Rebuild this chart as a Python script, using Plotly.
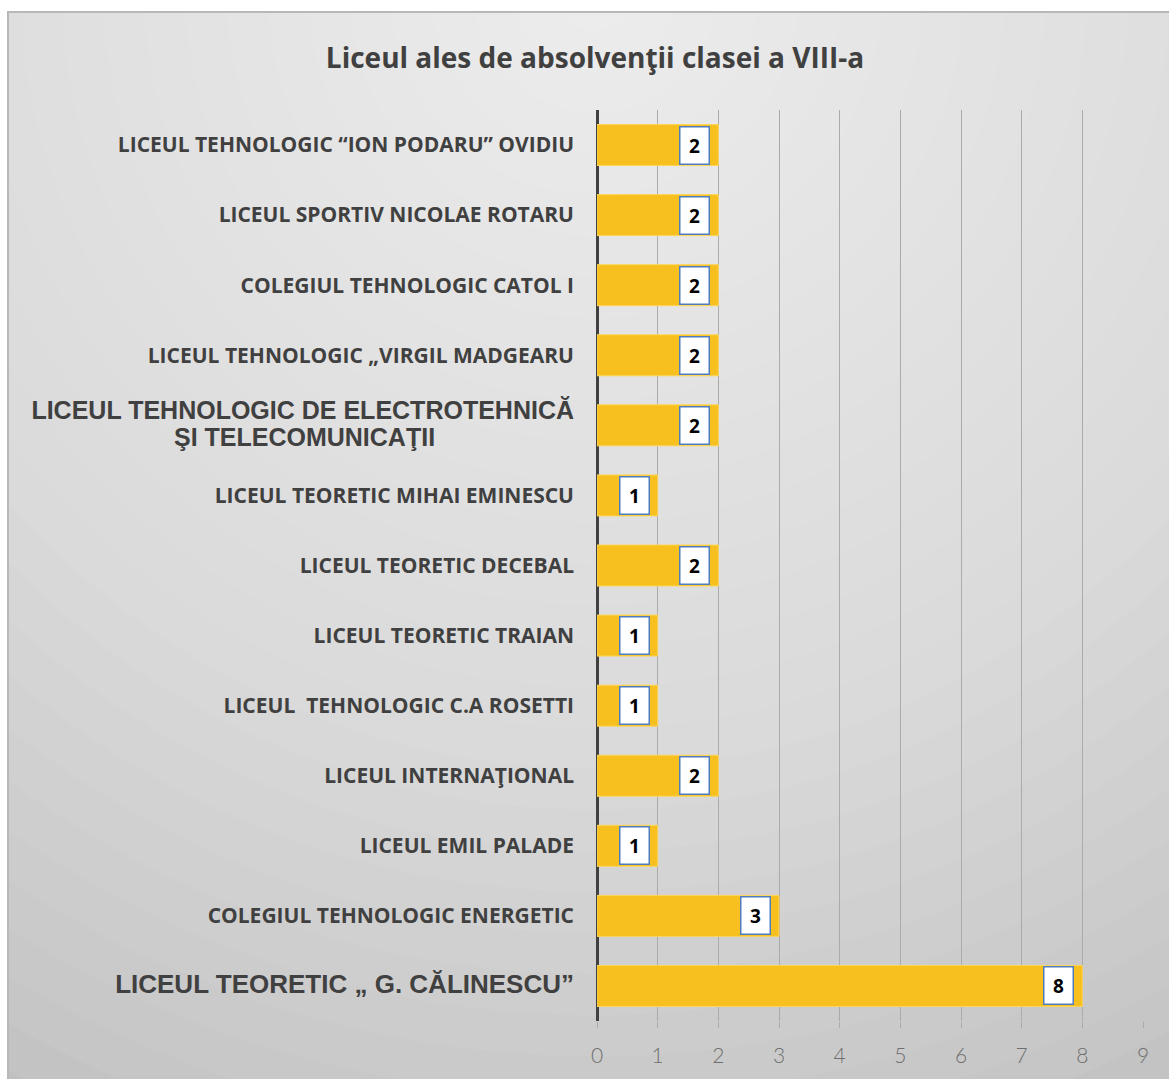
import plotly.graph_objects as go

# date
licee = [
    "LICEUL TEHNOLOGIC “ION PODARU” OVIDIU",
    "LICEUL SPORTIV NICOLAE ROTARU",
    "COLEGIUL TEHNOLOGIC CATOL I",
    "LICEUL TEHNOLOGIC „VIRGIL MADGEARU",
    "LICEUL TEHNOLOGIC DE ELECTROTEHNICĂ ŞI TELECOMUNICAŢII",
    "LICEUL TEORETIC MIHAI EMINESCU",
    "LICEUL TEORETIC DECEBAL",
    "LICEUL TEORETIC TRAIAN",
    "LICEUL  TEHNOLOGIC C.A ROSETTI",
    "LICEUL INTERNAŢIONAL",
    "LICEUL EMIL PALADE",
    "COLEGIUL TEHNOLOGIC ENERGETIC",
    "LICEUL TEORETIC „ G. CĂLINESCU”",
]
elevi = [2, 2, 2, 2, 2, 1, 2, 1, 1, 2, 1, 3, 8]
x_ticks = list(range(0, 10))

TITLU = "Liceul ales de absolvenţii clasei a VIII-a"

W, H = 1169, 1079
ML, MR, MT, MB = 597, 26, 110, 58

BAR = "#F8C01F"
TXT = "#404040"
GRID = "#ababab"


def tick_label(name):
    big = 'font-family:Liberation Sans, Arial;font-weight:bold;font-size:'
    if "ELECTROTEHNIC" in name:
        a, b = "LICEUL TEHNOLOGIC DE ELECTROTEHNICĂ", "ŞI TELECOMUNICAŢII"
        return (f'<span style="{big}25px">{a}<br>{b}' + "&nbsp;" * 20 + "</span>")
    if "CĂLINESCU" in name:
        return f'<span style="{big}26px">{name}</span>'
    return name.replace("  ", "&nbsp; ")


fig = go.Figure()

fig.add_trace(go.Bar(
    x=elevi, y=licee, orientation="h",
    marker=dict(color=BAR, line=dict(color="#FCD65A", width=1)),
    width=0.585,
    hoverinfo="x+y",
))

# etichete de date (casute albe cu chenar albastru)
for nume, v in zip(licee, elevi):
    fig.add_annotation(
        x=v, y=nume, text=f"<b>{v}</b>", showarrow=False,
        xanchor="right", xshift=-8,
        bgcolor="white", bordercolor="#4F7DBE", borderwidth=1.5,
        borderpad=1, width=26, height=34,
        font=dict(family="Open Sans", size=19, color="black"),
    )

# fundal cu gradient radial (cercuri suprapuse)
def px_x(p):
    return (p - ML) / (W - ML - MR)


def px_y(p):
    return (H - MB - p) / (H - MT - MB)


shapes = [dict(type="rect", xref="paper", yref="paper",
               x0=px_x(8), x1=px_x(W + 20), y0=px_y(12), y1=px_y(H + 20),
               fillcolor="#c0c0c0", line_width=0, layer="below")]
N = 30
a = 0.0513
cx, cy = 595, -10
for k in range(N):
    r = 1230 * (1 - k / N)
    shapes.append(dict(type="circle", xref="paper", yref="paper",
                       x0=px_x(cx - r), x1=px_x(cx + r),
                       y0=px_y(cy + r), y1=px_y(cy - r),
                       fillcolor="white", opacity=a, line_width=0, layer="below"))
# masti albe sus si la stanga
shapes.append(dict(type="rect", xref="paper", yref="paper",
                   x0=px_x(-5), x1=px_x(W + 20), y0=px_y(12), y1=px_y(-1500),
                   fillcolor="white", line_width=0, layer="below"))
shapes.append(dict(type="rect", xref="paper", yref="paper",
                   x0=px_x(-5), x1=px_x(8), y0=px_y(H + 20), y1=px_y(-5),
                   fillcolor="white", line_width=0, layer="below"))
shapes.append(dict(type="rect", xref="paper", yref="paper",
                   x0=px_x(8), x1=px_x(W + 20), y0=px_y(12), y1=px_y(H + 20),
                   fillcolor="rgba(0,0,0,0)", line=dict(color="#b8b8b8", width=2),
                   layer="below"))

fig.update_layout(
    width=W, height=H,
    margin=dict(l=ML, r=MR, t=MT, b=MB),
    paper_bgcolor="white",
    plot_bgcolor="rgba(0,0,0,0)",
    shapes=shapes,
    showlegend=False,
    title=dict(text=f"<b>{TITLU}</b>", xref="container", yref="container",
               x=595 / W, xanchor="center", y=1 - 58 / H, yanchor="middle",
               font=dict(family="Open Sans", size=28, color=TXT)),
    font=dict(family="Open Sans"),
)

fig.update_xaxes(
    range=[0, 9], tickvals=x_ticks,
    showgrid=True, gridcolor=GRID, gridwidth=1,
    zeroline=True, zerolinecolor=TXT, zerolinewidth=3,
    ticks="outside", ticklen=6, tickcolor=GRID,
    ticklabelstandoff=10,
    tickfont=dict(family="Lato", size=21, color="#6f6f6f", weight=300),
    showline=False,
)

fig.update_yaxes(
    autorange="reversed",
    tickvals=licee, ticktext=[tick_label(n) for n in licee],
    tickfont=dict(family="Open Sans", size=21, color=TXT, weight="bold"),
    ticklabelstandoff=22,
    showgrid=False, ticks="",
)

fig.write_html("out.html", config={"displayModeBar": False},
               post_script="document.body.style.margin='0px';")
